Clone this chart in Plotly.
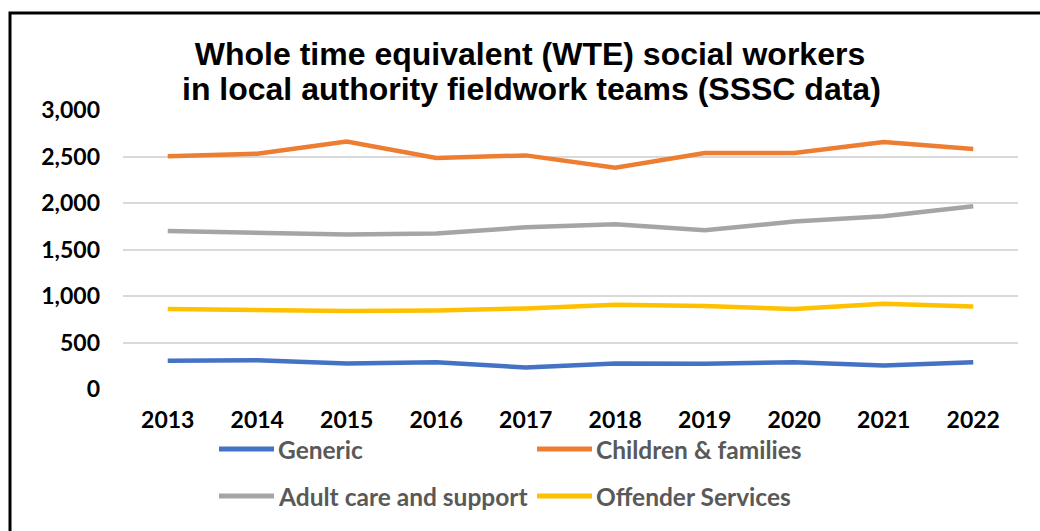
import plotly.graph_objects as go

years = ['2013', '2014', '2015', '2016', '2017', '2018', '2019', '2020', '2021', '2022']
generic = [305, 308, 273, 287, 232, 273, 271, 287, 252, 287]
children = [2502, 2530, 2660, 2484, 2512, 2380, 2537, 2537, 2656, 2580]
adult = [1699, 1685, 1660, 1671, 1739, 1771, 1706, 1801, 1857, 1964]
offender = [860, 852, 839, 845, 866, 907, 893, 860, 918, 886]

series_names = ['Generic', 'Children & families', 'Adult care and support', 'Offender Services']
series_values = [generic, children, adult, offender]
series_colors = ['#4472C4', '#ED7D31', '#A5A5A5', '#FFC000']

title_line1 = 'Whole time equivalent (WTE) social workers'
title_line2 = 'in local authority fieldwork teams (SSSC data)'

W, H = 1040, 531
ML, MR, MT, MB = 123, 22, 110, 142
PW, PH = W - ML - MR, H - MT - MB


def px_x(px):
    return (px - ML) / PW


def px_y(py):
    return (H - MB - py) / PH


fig = go.Figure()
for name, vals, col in zip(series_names, series_values, series_colors):
    fig.add_trace(go.Scatter(x=years, y=vals, name=name, mode='lines',
                             line=dict(color=col, width=4.5), showlegend=False))

tick_font = dict(family='Lato', size=23, color='black', weight='bold')
title_font = dict(family='Liberation Sans', size=32, color='black', weight='bold')

# manual legend (two rows, two columns)
legend_pos = [(219, 449), (537, 449), (219, 496), (537, 496)]
shapes = []
annotations = []
for (lx, ly), name, col in zip(legend_pos, series_names, series_colors):
    shapes.append(dict(type='line', xref='paper', yref='paper',
                       x0=px_x(lx), x1=px_x(lx + 55), y0=px_y(ly), y1=px_y(ly),
                       line=dict(color=col, width=5)))
    annotations.append(dict(xref='paper', yref='paper', x=px_x(lx + 57), y=px_y(ly),
                            xanchor='left', yanchor='middle', showarrow=False,
                            text=name, font=dict(family='Lato', size=24.5, color='#595959', weight='bold')))

# second title line (tighter line spacing than plotly's default)
annotations.append(dict(xref='paper', yref='paper', x=px_x(531), y=px_y(89),
                        xanchor='center', yanchor='middle', showarrow=False,
                        text=title_line2, font=title_font))

# outer chart frame
shapes.append(dict(type='rect', xref='paper', yref='paper', layer='above',
                   x0=px_x(10), x1=px_x(1060), y0=px_y(13), y1=px_y(560),
                   line=dict(color='black', width=3), fillcolor='rgba(0,0,0,0)'))

fig.update_layout(
    width=W, height=H,
    margin=dict(l=ML, r=MR, t=MT, b=MB, pad=0),
    paper_bgcolor='white', plot_bgcolor='white',
    title=dict(text=title_line1,
               x=530 / W, xanchor='center', xref='container',
               y=1 - 54 / H, yanchor='middle', yref='container',
               font=title_font),
    xaxis=dict(range=[-0.5, 9.5], showgrid=False, showline=False, zeroline=False, ticks='',
               tickfont=tick_font, ticklabelstandoff=15),
    yaxis=dict(range=[0, 3000], tickvals=[0, 500, 1000, 1500, 2000, 2500, 3000],
               tickformat=',', showgrid=True, gridcolor='#D9D9D9', gridwidth=1.5,
               zeroline=False, showline=False, ticks='', tickfont=tick_font,
               ticklabelstandoff=22),
    shapes=shapes,
    annotations=annotations,
)

fig.write_html('out.html')
